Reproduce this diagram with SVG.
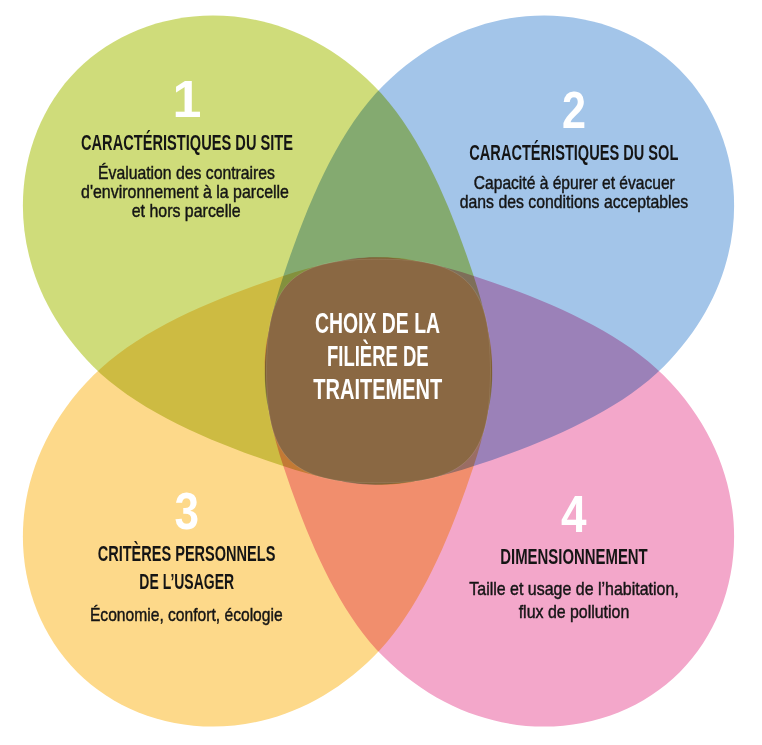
<svg xmlns="http://www.w3.org/2000/svg" xmlns:xlink="http://www.w3.org/1999/xlink" width="762" height="745" viewBox="0 0 762 745">
  <style>
    .petal { mix-blend-mode: multiply; }
    .num { font-family: "Liberation Sans Narrow", "Liberation Sans", Arial, sans-serif; font-weight: bold; font-size: 52px; fill: #ffffff; text-anchor: middle; }
    .title { font-family: "Liberation Sans Narrow", "Liberation Sans", Arial, sans-serif; font-weight: bold; font-size: 22px; fill: #151515; text-anchor: middle; }
    .body { font-family: "Liberation Sans Narrow", "Liberation Sans", Arial, sans-serif; font-weight: normal; font-size: 19px; fill: #151515; stroke: #151515; stroke-width: 0.45px; text-anchor: middle; }
    .center { font-family: "Liberation Sans Narrow", "Liberation Sans", Arial, sans-serif; font-weight: bold; font-size: 29px; fill: #ffffff; text-anchor: middle; }
  </style>
  <defs>
    <path id="petal" d="M 426,0 C 426,100 340,198.5 205,198.5 C 140,198.5 65.85,167.5 0.85,135 C -59.15,105 -120,60 -120,0 C -120,-60 -59.15,-105 0.85,-135 C 65.85,-167.5 140,-198.5 205,-198.5 C 340,-198.5 426,-100 426,0 Z"/>
  </defs>
  <rect x="0" y="0" width="762" height="745" fill="#ffffff"/>

  <g id="node-site">
    <use xlink:href="#petal" href="#petal" class="petal" fill="#CFDC7A" transform="matrix(-0.70711 -0.70711 0.70711 -0.70711 378.5 371)"/>
    <text class="num" x="187" y="117">1</text>
    <text class="title" x="187" y="150" textLength="212" lengthAdjust="spacingAndGlyphs">CARACTÉRISTIQUES DU SITE</text>
    <text class="body" x="186.5" y="178.5" textLength="177" lengthAdjust="spacingAndGlyphs">Évaluation des contraires</text>
    <text class="body" x="185" y="197.5" textLength="208" lengthAdjust="spacingAndGlyphs">d'environnement à la parcelle</text>
    <text class="body" x="186.2" y="216.5" textLength="109" lengthAdjust="spacingAndGlyphs">et hors parcelle</text>
  </g>

  <g id="node-sol">
    <use xlink:href="#petal" href="#petal" class="petal" fill="#A3C5E9" transform="matrix(0.70711 -0.70711 -0.70711 -0.70711 378.5 371)"/>
    <text class="num" x="574" y="128.3" textLength="24" lengthAdjust="spacingAndGlyphs">2</text>
    <text class="title" x="573.8" y="160" textLength="209" lengthAdjust="spacingAndGlyphs">CARACTÉRISTIQUES DU SOL</text>
    <text class="body" x="574.3" y="189.3" textLength="201" lengthAdjust="spacingAndGlyphs">Capacité à épurer et évacuer</text>
    <text class="body" x="574" y="208.3" textLength="228.6" lengthAdjust="spacingAndGlyphs">dans des conditions acceptables</text>
  </g>

  <g id="node-usager">
    <use xlink:href="#petal" href="#petal" class="petal" fill="#FDD98A" transform="matrix(-0.70711 0.70711 0.70711 0.70711 378.5 371)"/>
    <text class="num" x="186.7" y="528.7" textLength="24.5" lengthAdjust="spacingAndGlyphs">3</text>
    <text class="title" x="186.5" y="561.3" textLength="177.7" lengthAdjust="spacingAndGlyphs">CRITÈRES PERSONNELS</text>
    <text class="title" x="186.7" y="589.3" textLength="94.7" lengthAdjust="spacingAndGlyphs">DE L’USAGER</text>
    <text class="body" x="186.3" y="621" textLength="192.7" lengthAdjust="spacingAndGlyphs">Économie, confort, écologie</text>
  </g>

  <g id="node-dimensionnement">
    <use xlink:href="#petal" href="#petal" class="petal" fill="#F3A7CA" transform="matrix(0.70711 0.70711 -0.70711 0.70711 378.5 371)"/>
    <text class="num" x="573.8" y="532" textLength="25.5" lengthAdjust="spacingAndGlyphs">4</text>
    <text class="title" x="574" y="564" textLength="147.4" lengthAdjust="spacingAndGlyphs">DIMENSIONNEMENT</text>
    <text class="body" x="574" y="594.7" textLength="209.4" lengthAdjust="spacingAndGlyphs">Taille et usage de l’habitation,</text>
    <text class="body" x="574" y="618" textLength="110.6" lengthAdjust="spacingAndGlyphs">flux de pollution</text>
  </g>

  <g id="connectors"/>

  <g id="node-center">
    <path d="M 490.5,371 C 490.5,458.7 466.2,483 378.5,483 C 290.8,483 266.5,458.7 266.5,371 C 266.5,283.3 290.8,259 378.5,259 C 466.2,259 490.5,283.3 490.5,371 Z" fill="#8A6843" stroke="#ffffff" stroke-opacity="0.2" stroke-width="0.6"/>
    <text class="center" x="377.5" y="333" textLength="125" lengthAdjust="spacingAndGlyphs">CHOIX DE LA</text>
    <text class="center" x="377.8" y="366" textLength="101.6" lengthAdjust="spacingAndGlyphs">FILIÈRE DE</text>
    <text class="center" x="377.8" y="398.5" textLength="129" lengthAdjust="spacingAndGlyphs">TRAITEMENT</text>
  </g>
</svg>
